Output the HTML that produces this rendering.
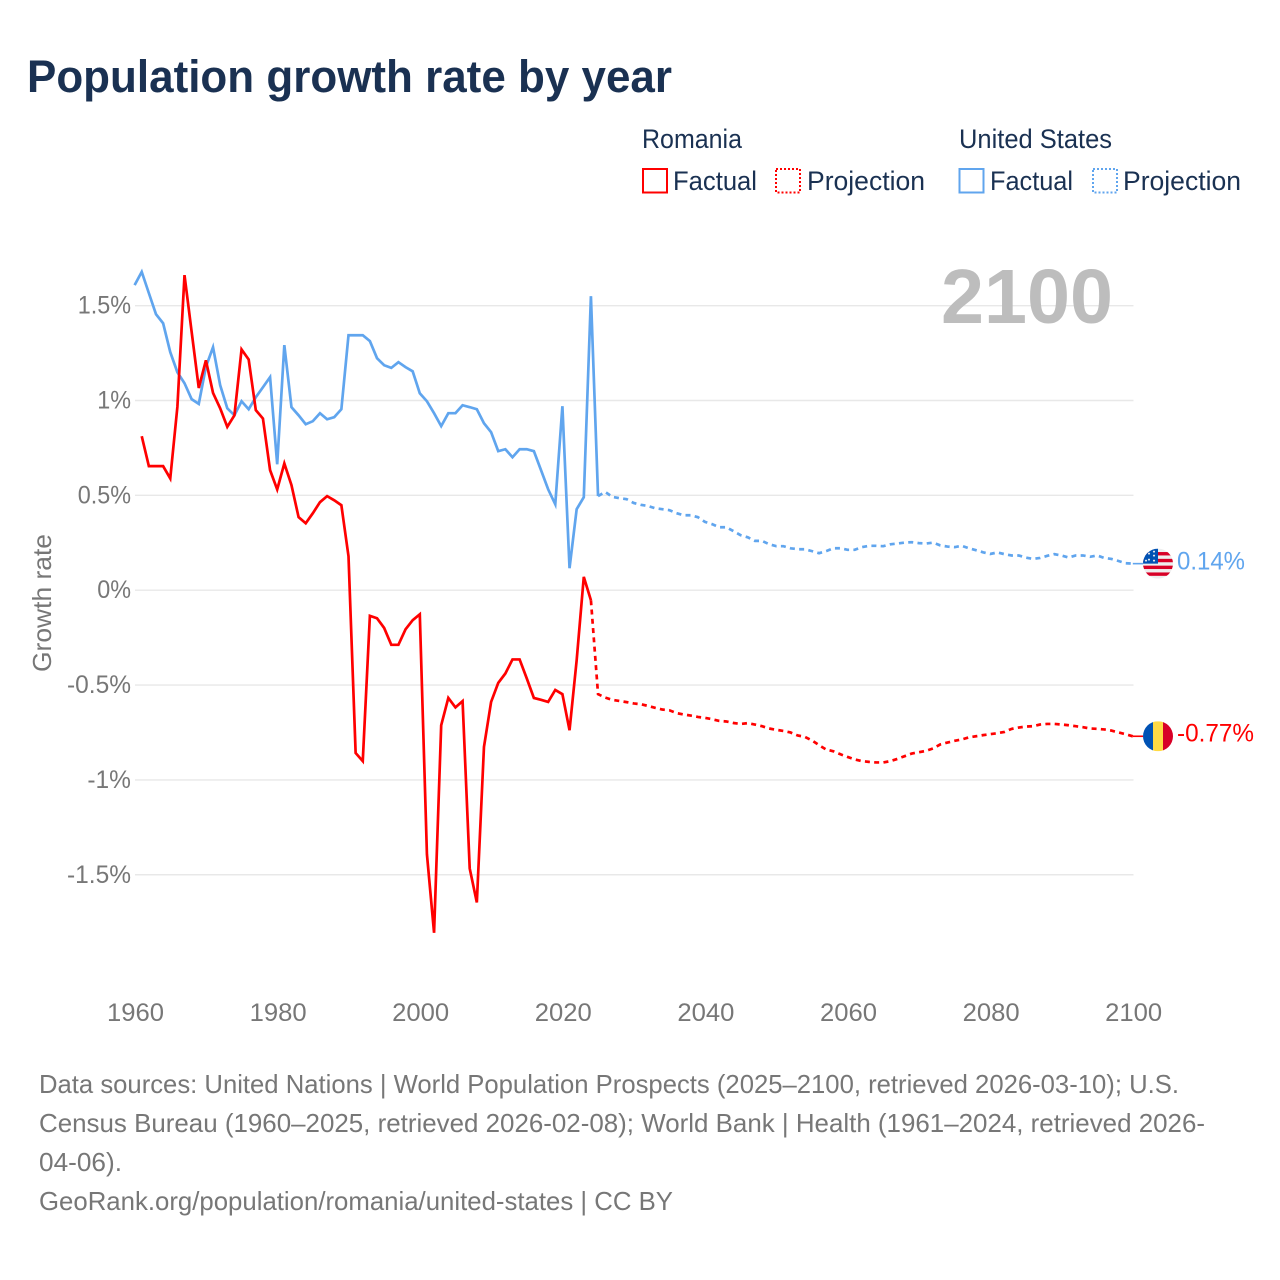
<!DOCTYPE html>
<html lang="en">
<head>
<meta charset="utf-8">
<title>Population growth rate by year</title>
<style>
html,body{margin:0;padding:0;background:#fff;}
svg{display:block;font-family:"Liberation Sans",Arial,sans-serif;}
</style>
</head>
<body>
<svg id="chart" xmlns="http://www.w3.org/2000/svg" width="1280" height="1280" viewBox="0 0 1280 1280">
  <defs>
    <clipPath id="flag-clip-us"><circle cx="0" cy="0" r="15"/></clipPath>
    <clipPath id="flag-clip-ro"><circle cx="0" cy="0" r="15"/></clipPath>
  </defs>
  <rect width="1280" height="1280" fill="#ffffff"/>
  <text x="27" y="92" font-size="45" font-weight="700" fill="#1a3152" textLength="645" lengthAdjust="spacingAndGlyphs">Population growth rate by year</text>

  <g font-size="27" fill="#1a3152">
    <text x="642" y="148" textLength="100" lengthAdjust="spacingAndGlyphs">Romania</text>
    <rect x="643" y="169" width="24" height="23.5" fill="none" stroke="#ff0000" stroke-width="2"/>
    <text x="673" y="190" textLength="84" lengthAdjust="spacingAndGlyphs">Factual</text>
    <rect x="776" y="169" width="24" height="23.5" fill="none" stroke="#ff0000" stroke-width="2" stroke-dasharray="2 2"/>
    <text x="807" y="190" textLength="118" lengthAdjust="spacingAndGlyphs">Projection</text>
    <text x="959" y="148" textLength="153" lengthAdjust="spacingAndGlyphs">United States</text>
    <rect x="959.5" y="169" width="24" height="23.5" fill="none" stroke="#60a5ee" stroke-width="2"/>
    <text x="990" y="190" textLength="83" lengthAdjust="spacingAndGlyphs">Factual</text>
    <rect x="1093" y="169" width="24" height="23.5" fill="none" stroke="#60a5ee" stroke-width="2" stroke-dasharray="2 2"/>
    <text x="1123" y="190" textLength="118" lengthAdjust="spacingAndGlyphs">Projection</text>
  </g>

  <g id="grid"></g>
  <text x="941" y="323" font-size="77" font-weight="700" fill="#bdbdbd" textLength="172" lengthAdjust="spacingAndGlyphs">2100</text>
  <g id="y-ticks" font-size="25" fill="#777777"></g>
  <g id="x-ticks" font-size="25" fill="#777777"></g>
  <text transform="translate(51,603) rotate(-90)" text-anchor="middle" font-size="26" fill="#777777" textLength="138" lengthAdjust="spacingAndGlyphs">Growth rate</text>
  <g id="series"></g>

  <g id="flag-us">
    <g clip-path="url(#flag-clip-us)">
      <rect x="-15" y="-15" width="30" height="30" fill="#eeeeee"/>
      <rect x="-15" y="-11.6" width="30" height="3.4" fill="#d80027"/>
      <rect x="-15" y="-4.8" width="30" height="3.4" fill="#d80027"/>
      <rect x="-15" y="2" width="30" height="3.4" fill="#d80027"/>
      <rect x="-15" y="8.8" width="30" height="3.4" fill="#d80027"/>
      <rect x="-15" y="-15" width="15" height="15" fill="#0052b4"/>
      <g fill="#eeeeee">
        <circle cx="-9" cy="-10" r="1"/><circle cx="-4" cy="-12" r="1"/><circle cx="-4" cy="-8" r="1"/>
        <circle cx="-9" cy="-4" r="1"/><circle cx="-4" cy="-3" r="1"/><circle cx="-12" cy="-3" r="1"/>
      </g>
    </g>
  </g>
  <g id="flag-ro">
    <g clip-path="url(#flag-clip-ro)">
      <rect x="-15" y="-15" width="10" height="30" fill="#0052b4"/>
      <rect x="-5" y="-15" width="10" height="30" fill="#ffda44"/>
      <rect x="5" y="-15" width="10" height="30" fill="#d80027"/>
    </g>
  </g>
  <text id="label-us" x="1177" font-size="25" fill="#60a5ee"></text>
  <text id="label-ro" x="1177" font-size="25" fill="#ff0000"></text>

  <g font-size="26" fill="#777777">
    <text x="39" y="1093" textLength="1140" lengthAdjust="spacingAndGlyphs">Data sources: United Nations | World Population Prospects (2025–2100, retrieved 2026-03-10); U.S.</text>
    <text x="39" y="1132" textLength="1166" lengthAdjust="spacingAndGlyphs">Census Bureau (1960–2025, retrieved 2026-02-08); World Bank | Health (1961–2024, retrieved 2026-</text>
    <text x="39" y="1171" textLength="83" lengthAdjust="spacingAndGlyphs">04-06).</text>
    <text x="39" y="1210" textLength="634" lengthAdjust="spacingAndGlyphs">GeoRank.org/population/romania/united-states | CC BY</text>
  </g>
</svg>
<script>
const yTickValues = [1.5, 1, 0.5, 0, -0.5, -1, -1.5];
const yTickLabels = ["1.5%", "1%", "0.5%", "0%", "-0.5%", "-1%", "-1.5%"];
const xTickYears = [1960, 1980, 2000, 2020, 2040, 2060, 2080, 2100];
const romaniaFactualStart = 1961;
const romaniaFactual = [
  0.812,0.654,0.654,0.654,0.589,0.966,1.661,1.362,1.066,1.212,
  1.04,0.959,0.861,0.922,1.269,1.216,0.949,0.905,0.633,0.531,
  0.668,0.554,0.385,0.353,0.406,0.464,0.496,0.474,0.448,0.179,
  -0.858,-0.901,-0.135,-0.148,-0.199,-0.288,-0.288,-0.206,-0.158,-0.127,
  -1.392,-1.806,-0.712,-0.568,-0.618,-0.585,-1.467,-1.646,-0.826,-0.589,
  -0.489,-0.439,-0.365,-0.365,-0.465,-0.568,-0.578,-0.589,-0.526,-0.548,
  -0.738,-0.369,0.07,-0.053
];
const romaniaProjectionStart = 2024;
const romaniaProjection = [
  -0.053,
  -0.548,-0.566,-0.578,-0.584,-0.59,-0.597,-0.601,-0.61,-0.62,-0.629,
  -0.633,-0.648,-0.655,-0.661,-0.668,-0.673,-0.68,-0.689,-0.692,-0.7,
  -0.705,-0.701,-0.708,-0.717,-0.729,-0.736,-0.742,-0.75,-0.766,-0.773,
  -0.792,-0.817,-0.84,-0.849,-0.865,-0.879,-0.892,-0.901,-0.905,-0.908,
  -0.908,-0.901,-0.889,-0.875,-0.861,-0.854,-0.847,-0.834,-0.813,-0.803,
  -0.794,-0.787,-0.776,-0.77,-0.764,-0.759,-0.754,-0.747,-0.731,-0.724,
  -0.719,-0.717,-0.708,-0.705,-0.705,-0.708,-0.712,-0.717,-0.722,-0.729,
  -0.731,-0.734,-0.74,-0.75,-0.759,-0.77
];
const usFactualStart = 1960;
const usFactual = [
  1.608,1.678,1.566,1.455,1.407,1.255,1.149,1.091,1.007,0.982,
  1.177,1.281,1.081,0.959,0.922,0.996,0.954,1.017,1.07,1.123,
  0.664,1.292,0.965,0.922,0.875,0.891,0.933,0.901,0.912,0.954,
  1.344,1.344,1.344,1.313,1.223,1.186,1.172,1.202,1.176,1.154,
  1.038,0.996,0.933,0.865,0.933,0.933,0.975,0.965,0.954,0.88,
  0.833,0.733,0.743,0.701,0.743,0.743,0.733,0.633,0.532,0.453,
  0.97,0.116,0.427,0.49,1.55,0.496
];
const usProjectionStart = 2025;
const usProjection = [
  0.496,
  0.518,0.492,0.485,0.48,0.46,0.45,0.444,0.432,0.427,0.422,
  0.406,0.395,0.395,0.385,0.36,0.348,0.332,0.332,0.311,0.29,
  0.279,0.26,0.26,0.242,0.232,0.232,0.221,0.216,0.216,0.206,
  0.195,0.206,0.221,0.221,0.213,0.213,0.227,0.234,0.234,0.232,
  0.242,0.246,0.251,0.253,0.248,0.246,0.251,0.236,0.23,0.227,
  0.234,0.221,0.211,0.2,0.191,0.199,0.19,0.183,0.183,0.172,
  0.165,0.17,0.181,0.19,0.183,0.172,0.183,0.183,0.176,0.183,
  0.17,0.165,0.154,0.142,0.14
];
const endLabels = ["0.14%", "-0.77%"];

const SVG_NS = "http://www.w3.org/2000/svg";
const xScale = year => 134.6 + (year - 1960) * 7.13;
const yScale = value => 590.2 - value * 189.7;

function make(tag, parent, attrs) {
  const el = document.createElementNS(SVG_NS, tag);
  for (const k in attrs) el.setAttribute(k, attrs[k]);
  parent.appendChild(el);
  return el;
}

const grid = document.getElementById("grid");
const yTicks = document.getElementById("y-ticks");
yTickValues.forEach((v, i) => {
  const line = make("line", grid, { x1: 135, x2: 1133.5, y1: yScale(v), y2: yScale(v), stroke: "#e8e8e8", "stroke-width": 1.4 });
  
  
  const t = make("text", yTicks, { x: 131, y: yScale(v) + 8, "text-anchor": "end" });
  t.textContent = yTickLabels[i];
  
  
  const stretch = v < 0 ? 0.98 : 0.935;
  t.setAttribute("textLength", (t.getComputedTextLength() * stretch).toFixed(1));
  t.setAttribute("lengthAdjust", "spacingAndGlyphs");
});

const xTicks = document.getElementById("x-ticks");
xTickYears.forEach(yr => {
  const t = make("text", xTicks, { x: 135.5 + (yr - 1960) * 7.13, y: 1021, "text-anchor": "middle" });
  t.textContent = yr;
  
  
  t.setAttribute("textLength", "57");
  t.setAttribute("lengthAdjust", "spacingAndGlyphs");
});

function pathFrom(values, startYear) {
  return values.map((v, i) => (i ? "L" : "M") + xScale(startYear + i).toFixed(2) + " " + yScale(v).toFixed(2)).join(" ");
}

const seriesGroup = document.getElementById("series");

const usProjPath = make("path", seriesGroup, { d: pathFrom(usProjection, usProjectionStart), fill: "none", stroke: "#60a5ee", "stroke-width": 2.7, "stroke-dasharray": "5 4.3" });



const roProjPath = make("path", seriesGroup, { d: pathFrom(romaniaProjection, romaniaProjectionStart), fill: "none", stroke: "#ff0000", "stroke-width": 2.7, "stroke-dasharray": "5 4.3" });



const usPath = make("path", seriesGroup, { d: pathFrom(usFactual, usFactualStart), fill: "none", stroke: "#60a5ee", "stroke-width": 2.7, "stroke-linejoin": "miter" });



const roPath = make("path", seriesGroup, { d: pathFrom(romaniaFactual, romaniaFactualStart), fill: "none", stroke: "#ff0000", "stroke-width": 2.7, "stroke-linejoin": "miter" });



const usEnd = usProjection[usProjection.length - 1];
const roEnd = romaniaProjection[romaniaProjection.length - 1];

const usLink = make("line", seriesGroup, { x1: xScale(2100), x2: 1143, y1: yScale(usEnd), y2: yScale(usEnd), stroke: "#60a5ee", "stroke-width": 1.6 });



const roLink = make("line", seriesGroup, { x1: xScale(2100), x2: 1143, y1: yScale(roEnd), y2: yScale(roEnd), stroke: "#ff0000", "stroke-width": 1.6 });



document.getElementById("flag-us").setAttribute("transform", "translate(1158," + yScale(usEnd) + ")");
document.getElementById("flag-ro").setAttribute("transform", "translate(1158," + yScale(roEnd) + ")");

const labelUs = document.getElementById("label-us");
labelUs.textContent = endLabels[0];
labelUs.setAttribute("y", yScale(usEnd) + 6);
labelUs.setAttribute("textLength", "68");
labelUs.setAttribute("lengthAdjust", "spacingAndGlyphs");

const labelRo = document.getElementById("label-ro");
labelRo.textContent = endLabels[1];
labelRo.setAttribute("y", yScale(roEnd) + 5);
labelRo.setAttribute("textLength", "77");
labelRo.setAttribute("lengthAdjust", "spacingAndGlyphs");
</script>
</body>
</html>
